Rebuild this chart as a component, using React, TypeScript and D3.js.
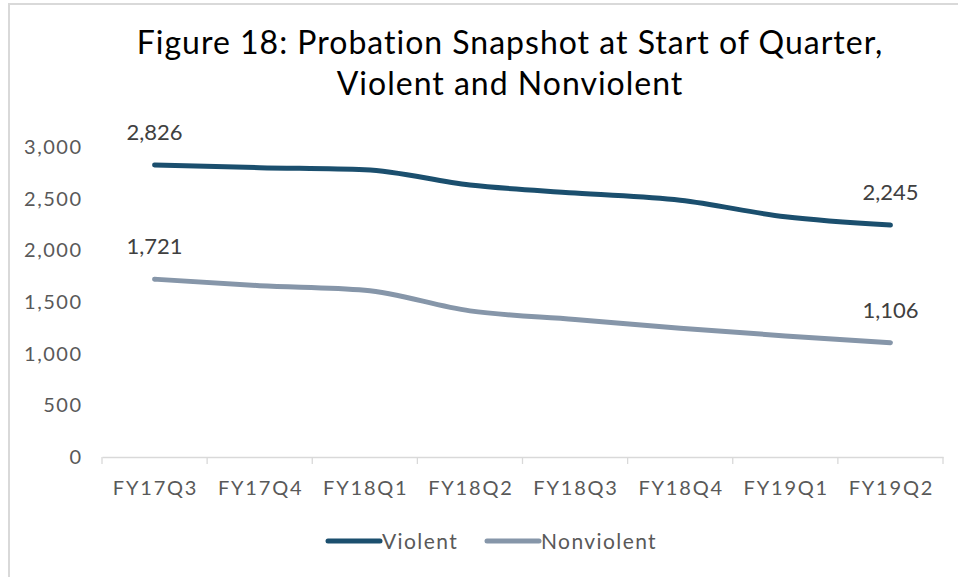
import React from "react";
import * as d3 from "d3";

const quarters = ["FY17Q3", "FY17Q4", "FY18Q1", "FY18Q2", "FY18Q3", "FY18Q4", "FY19Q1", "FY19Q2"];
const violent = [2826, 2800, 2780, 2632, 2555, 2485, 2325, 2245];
const nonviolent = [1721, 1658, 1614, 1414, 1330, 1245, 1172, 1106];
const yTicks = [0, 500, 1000, 1500, 2000, 2500, 3000];
const titleLines = ["Figure 18: Probation Snapshot at Start of Quarter,", "Violent and Nonviolent"];

const series = [
  { name: "Violent", values: violent, color: "#1b4f6e" },
  { name: "Nonviolent", values: nonviolent, color: "#8696a9" },
];

const W = 958;
const H = 577;
const font = "Lato, 'Open Sans', sans-serif";

class App extends React.Component {
  private svgRef: React.RefObject<SVGSVGElement>;
  constructor(props: {}) {
    super(props);
    this.svgRef = React.createRef();
  }

  componentDidMount() {
    this.createChart();
  }

  createChart() {
    if (!this.svgRef.current) return;
    const svg = d3.select<SVGSVGElement, unknown>(this.svgRef.current);
    svg.selectAll("*").remove();

    const margin = { top: 147, right: 15, bottom: 120, left: 102 };
    const plotW = 943 - margin.left;
    const plotH = 457 - margin.top;

    // chart border (only top and left edges fall inside the picture)
    svg
      .append("rect")
      .attr("x", 9)
      .attr("y", 4)
      .attr("width", W + 20)
      .attr("height", H + 20)
      .attr("fill", "#fff")
      .attr("stroke", "#d9d9d9")
      .attr("stroke-width", 2);

    svg
      .append("text")
      .attr("text-anchor", "middle")
      .attr("font-family", font)
      .attr("font-size", 32)
      .attr("letter-spacing", 1)
      .attr("fill", "#000")
      .selectAll("tspan")
      .data(titleLines)
      .join("tspan")
      .attr("x", 510)
      .attr("y", (d, i) => 54 + i * 41)
      .text((d) => d);

    const g = svg.append("g").attr("transform", `translate(${margin.left},${margin.top})`);

    const xBand = d3.scaleBand<string>().domain(quarters).range([0, plotW]);
    const x = (q: string) => (xBand(q) || 0) + xBand.bandwidth() / 2;
    const y = d3.scaleLinear().domain([0, 3000]).range([plotH, 0]);

    // x axis
    const xAxis = g
      .append("g")
      .attr("transform", `translate(0,${plotH})`)
      .call(d3.axisBottom(xBand).tickSize(0).tickPadding(24) as any);
    xAxis.select(".domain").attr("stroke", "#d9d9d9").attr("stroke-width", 1.3);
    xAxis
      .selectAll("text")
      .attr("font-family", font)
      .attr("font-size", 20)
      .attr("letter-spacing", 1.8)
      .attr("dx", 1)
      .attr("fill", "#595959");
    const tickPos = d3.range(quarters.length + 1).map((i) => i * xBand.step());
    g.append("g")
      .selectAll("line")
      .data(tickPos)
      .join("line")
      .attr("x1", (d) => d)
      .attr("x2", (d) => d)
      .attr("y1", plotH)
      .attr("y2", plotH + 7)
      .attr("stroke", "#d9d9d9")
      .attr("stroke-width", 1.3);

    // y axis labels
    const yAxis = g
      .append("g")
      .call(d3.axisLeft(y).tickValues(yTicks).tickSize(0).tickPadding(19.5).tickFormat(d3.format(",")) as any);
    yAxis.select(".domain").remove();
    yAxis
      .selectAll("text")
      .attr("font-family", font)
      .attr("font-size", 20)
      .attr("letter-spacing", 1.5)
      .attr("fill", "#595959");

    const line = d3
      .line<number>()
      .x((d, i) => x(quarters[i]))
      .y((d) => y(d))
      .curve(d3.curveMonotoneX);

    g.selectAll(".line")
      .data(series)
      .join("path")
      .attr("class", "line")
      .attr("fill", "none")
      .attr("stroke", (d) => d.color)
      .attr("stroke-width", 5)
      .attr("stroke-linecap", "round")
      .attr("stroke-linejoin", "round")
      .attr("d", (d) => line(d.values) || "");

    // end point labels
    const labels = series.flatMap((s) => [
      { q: quarters[0], v: s.values[0] },
      { q: quarters[quarters.length - 1], v: s.values[s.values.length - 1] },
    ]);
    g.append("g")
      .selectAll("text")
      .data(labels)
      .join("text")
      .attr("x", (d) => x(d.q))
      .attr("y", (d) => y(d.v) - 25)
      .attr("text-anchor", "middle")
      .attr("font-family", font)
      .attr("font-size", 22)
      .attr("fill", "#404040")
      .text((d) => d3.format(",")(d.v));

    // legend
    const legendX = [328, 487];
    const leg = svg
      .append("g")
      .selectAll("g")
      .data(series)
      .join("g")
      .attr("transform", (d, i) => `translate(${legendX[i]},541)`);
    leg
      .append("line")
      .attr("x1", 0)
      .attr("x2", 52)
      .attr("stroke", (d) => d.color)
      .attr("stroke-width", 5)
      .attr("stroke-linecap", "round");
    leg
      .append("text")
      .attr("x", 54)
      .attr("y", 7.5)
      .attr("font-family", font)
      .attr("font-size", 21)
      .attr("letter-spacing", 1.4)
      .attr("fill", "#595959")
      .text((d) => d.name);
  }

  render() {
    return (
      <svg
        ref={this.svgRef}
        width={W}
        height={H}
        style={{ position: "absolute", left: 0, top: 0, display: "block" }}
      ></svg>
    );
  }
}

export default App;
